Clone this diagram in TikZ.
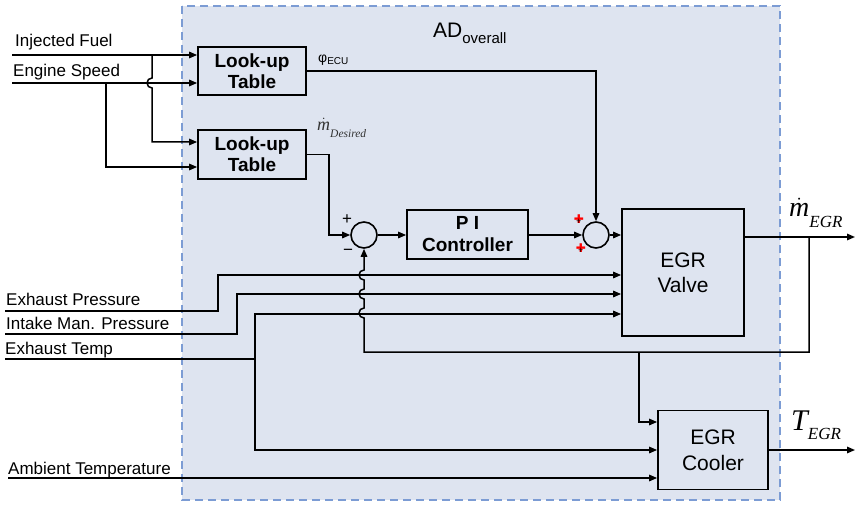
\documentclass[tikz,border=0pt]{standalone}
\usepackage{fontspec}
\setmainfont{Liberation Sans}
\newfontfamily\djv{DejaVu Sans}
\newfontfamily\tms{Liberation Serif}
\usetikzlibrary{arrows.meta,positioning}
\definecolor{adfill}{RGB}{222,228,240}
\definecolor{adline}{RGB}{124,156,212}
\newcommand{\mdot}{$\dot{\hbox{\tms\itshape m}}$}

\begin{document}
\begin{tikzpicture}[x=1pt, y=-1pt,
  lab/.style={font=\fontsize{17}{20}\selectfont, inner sep=0pt, anchor=base west},
  lut/.style={draw, line width=1.8pt, minimum width=108pt, minimum height=48pt, align=center, inner sep=0pt,
    font=\fontsize{19}{21}\selectfont\bfseries},
  blk/.style={draw, line width=1.8pt, align=center, inner sep=0pt, font=\fontsize{21}{25}\selectfont},
  sumcirc/.style={draw, circle, line width=1.6pt, minimum size=26pt, inner sep=0pt},
  sig/.style={inner sep=0pt, anchor=base west},
  wire/.style={line width=1.5pt},
  arr/.style={wire, -{Triangle[length=8pt, width=6.5pt]}}]
\useasboundingbox (0,0) rectangle (859,505);
\draw[adline, fill=adfill, line width=1.6pt, dash pattern=on 8pt off 5pt] (182,6) rectangle (780,500);
\node[font=\fontsize{21}{25}\selectfont, anchor=base west, inner sep=0pt] (ad) at (433,38)
  {AD\raisebox{-6pt}{\fontsize{15}{15}\selectfont overall}};

% blocks
\node[lut] (lut1) at (252,71) {Look-up\\Table};
\node[lut, minimum height=49pt] (lut2) at (252,154.5) {Look-up\\Table};
\node[sumcirc] (sum1) at (364,235) {};
\node[blk, font=\fontsize{19}{22}\selectfont\bfseries, minimum width=121pt, minimum height=49pt] (pi) at (467.5,234.5) {P I\\Controller};
\node[sumcirc] (sum2) at (596,235) {};
\node[blk, minimum width=122pt, minimum height=127pt] (valve) at (683,272.5) {EGR\\Valve};
\node[blk, font=\fontsize{21}{26}\selectfont, minimum width=110pt, minimum height=79pt] (cooler) at (713,450) {EGR\\Cooler};

% signs
\node[font=\fontsize{17}{17}\selectfont] (plus) at (347,220) {+};
\node[font=\fontsize{17}{17}\selectfont] (minus) at (348,252) {−};
\node[font=\djv\fontsize{12}{12}\selectfont] (rp1) at (579,219) {\textcolor{red}{✚}\llap{\fontsize{7}{7}\selectfont +\hspace{2.3pt}}};
\node[font=\djv\fontsize{12}{12}\selectfont] (rp2) at (581,248) {\textcolor{red}{✚}\llap{\fontsize{7}{7}\selectfont +\hspace{2.3pt}}};

% labels
\node[lab] (lfuel) at (15,47) {Injected Fuel};
\node[lab] (lspeed) at (13,77) {Engine Speed};
\node[lab] (lexp) at (6,305) {Exhaust Pressure};
\node[lab] (lint) at (6,329) {Intake Man. Pressure};
\node[lab] (ltemp) at (5,354) {Exhaust Temp};
\node[lab] (lamb) at (8,474) {Ambient Temperature};
\node[sig, font=\fontsize{14}{16}\selectfont] (phi) at (318,63)
  {φ\raisebox{-2pt}{\fontsize{10}{10}\selectfont ECU}};
\node[sig, font=\fontsize{18}{20}\selectfont, text=black!80] (mdes) at (317,131)
  {\mdot\raisebox{-7pt}{\fontsize{11.5}{12}\selectfont\tms\itshape Desired}};
\node[sig, font=\fontsize{28}{30}\selectfont] (megr) at (789,217)
  {\mdot\raisebox{-10pt}{\fontsize{17}{17}\selectfont\tms\itshape EGR}};
\node[sig, font=\fontsize{30}{32}\selectfont\tms\itshape] (tegr) at (791,430)
  {T\raisebox{-9pt}{\fontsize{17}{17}\selectfont EGR}};

% inputs
\coordinate (fuel) at (12,55);
\coordinate (speed) at (12,83);
\coordinate (fj) at (152,55);
\coordinate (sj) at (106,83);
\coordinate (exp) at (5,311);
\coordinate (intk) at (5,334);
\coordinate (tmp) at (5,359);
\coordinate (tj) at (255,359);
\coordinate (amb) at (8,478);
% outputs
\coordinate (mout) at (855,237);
\coordinate (tout) at (855,450);
\coordinate (fbk) at (809,237);
\coordinate (fbb) at (639,352);

\draw[arr] (fuel) -- ([yshift=16pt]lut1.west);
\draw[arr] (speed) -- ([yshift=-12pt]lut1.west);
\draw[arr] (fj) -- (152,78) arc[start angle=270, end angle=90, radius=5] |- ([yshift=12.5pt]lut2.west);
\draw[arr] (sj) |- ([yshift=-12.5pt]lut2.west);
\draw[arr] (lut1.east) -| (sum2.north);
\draw[arr] (lut2.east) -- ++(22,0) |- (sum1.west);
\draw[arr] (sum1.east) -- (pi.west |- sum1.east);
\draw[arr] (pi.east |- sum2.west) -- (sum2.west);
\draw[arr] (sum2.east) -- (valve.west |- sum2.east);

\draw[arr] (exp) -- (218,311) |- ([yshift=-2.5pt]valve.west);
\draw[arr] (intk) -- (237,334) |- ([yshift=-21.5pt]valve.west);
\draw[wire] (tmp) -- (tj);
\draw[arr] (tj) |- ([yshift=-41.5pt]valve.west);
\draw[arr] (tj) |- (cooler.west);
\draw[arr] (amb) -- ([yshift=-28pt]cooler.west);

\draw[arr] ([yshift=35.5pt]valve.east) -- (mout);
\draw[arr] (fbk) |- (fbb) -- (364,352) -- (364,318) arc[start angle=90, end angle=270, radius=5]
  -- (364,299) arc[start angle=90, end angle=270, radius=5]
  -- (364,280) arc[start angle=90, end angle=270, radius=5] -- (sum1.south);
\draw[arr] (fbb) |- ([yshift=28pt]cooler.west);
\draw[arr] (cooler.east) -- (tout);
\end{tikzpicture}
\end{document}
